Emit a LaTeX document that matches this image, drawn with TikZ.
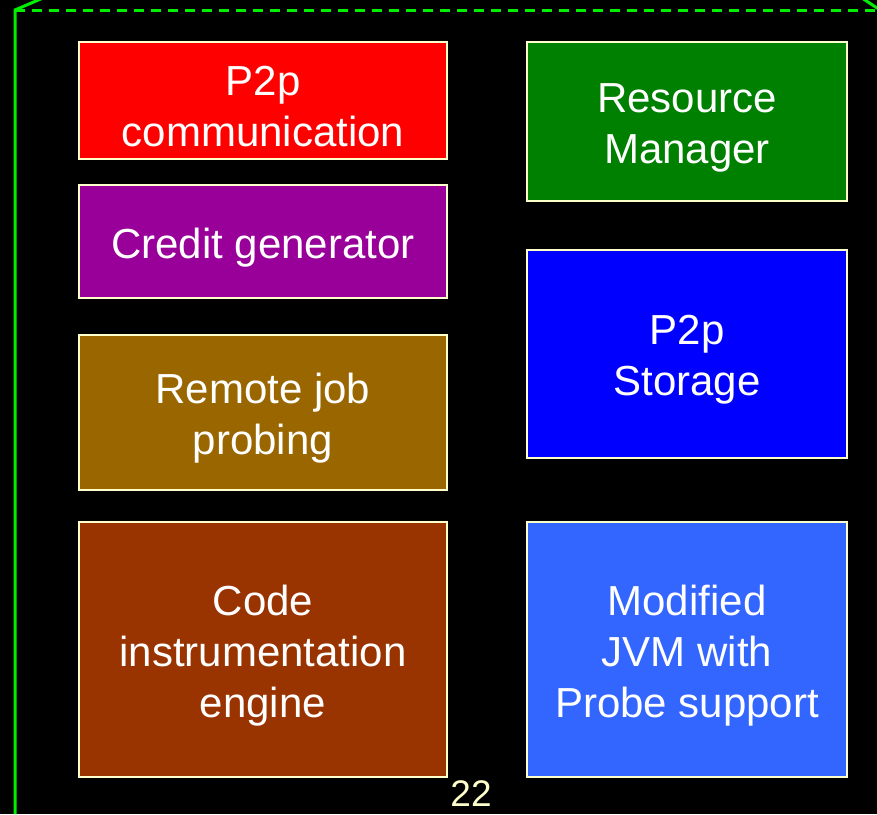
\documentclass[tikz,border=0pt]{standalone}
\usepackage{fontspec}
\setmainfont{Liberation Sans}
\definecolor{cream}{HTML}{FFFFCC}
\definecolor{frame}{HTML}{00EE00}
\definecolor{cred}{HTML}{FF0000}
\definecolor{cpurple}{HTML}{990099}
\definecolor{cbrown}{HTML}{996600}
\definecolor{crust}{HTML}{993300}
\definecolor{cgreen}{HTML}{008000}
\definecolor{cblue}{HTML}{0000FF}
\definecolor{clblue}{HTML}{3366FF}
\begin{document}
\begin{tikzpicture}[x=1pt,y=-1pt,
  blk/.style={draw=cream,line width=2.5pt,inner sep=0pt},
  txt/.style={text=white,align=center,inner sep=0pt,yshift=-6pt,
    font=\fontsize{42}{51}\selectfont},
  frm/.style={draw=frame,line width=3pt}]
\fill[black] (0,0) rectangle (877,814);
\useasboundingbox (0,0) rectangle (877,814);
% frame
\coordinate (tl) at (15,10);
\coordinate (bl) at (15,814);
\coordinate (tr) at (877,10);
\coordinate (d1) at (43,-2);
\coordinate (d2) at (862,-2);
\coordinate (d3) at (880,10);
\draw[frm] (bl) -- (tl) -- (d1);
\draw[frm,dash pattern=on 10pt off 7pt] (tl) -- (tr);
\draw[frm] (d2) -- (d3);
% left column
\node[blk,fill=cred,minimum width=368,minimum height=117] (p2pc) at (263,100.5) {};
\node[txt] (p2pct) at (p2pc.center) {P2p\\communication};
\node[blk,fill=cpurple,minimum width=368,minimum height=113] (cred) at (263,241.5) {};
\node[txt] (credt) at (cred.center) {Credit generator};
\node[blk,fill=cbrown,minimum width=368,minimum height=155] (rjp) at (263,412.5) {};
\node[txt] (rjpt) at (rjp.center) {Remote job\\probing};
\node[blk,fill=crust,minimum width=368,minimum height=255] (cie) at (263,649.5) {};
\node[txt] (ciet) at (cie.center) {Code\\instrumentation\\engine};
% right column
\node[blk,fill=cgreen,minimum width=320,minimum height=159] (rm) at (687,121.5) {};
\node[txt] (rmt) at (rm.center) {Resource\\Manager};
\node[blk,fill=cblue,minimum width=320,minimum height=208] (p2ps) at (687,354) {};
\node[txt] (p2pst) at (p2ps.center) {P2p\\Storage};
\node[blk,fill=clblue,minimum width=320,minimum height=255] (jvm) at (687,649.5) {};
\node[txt] (jvmt) at (jvm.center) {Modified\\JVM with\\Probe support};
% page number
\node[text=cream,font=\fontsize{37}{40}\selectfont,inner sep=0pt] (pg) at (471,794) {22};
\end{tikzpicture}
\end{document}
